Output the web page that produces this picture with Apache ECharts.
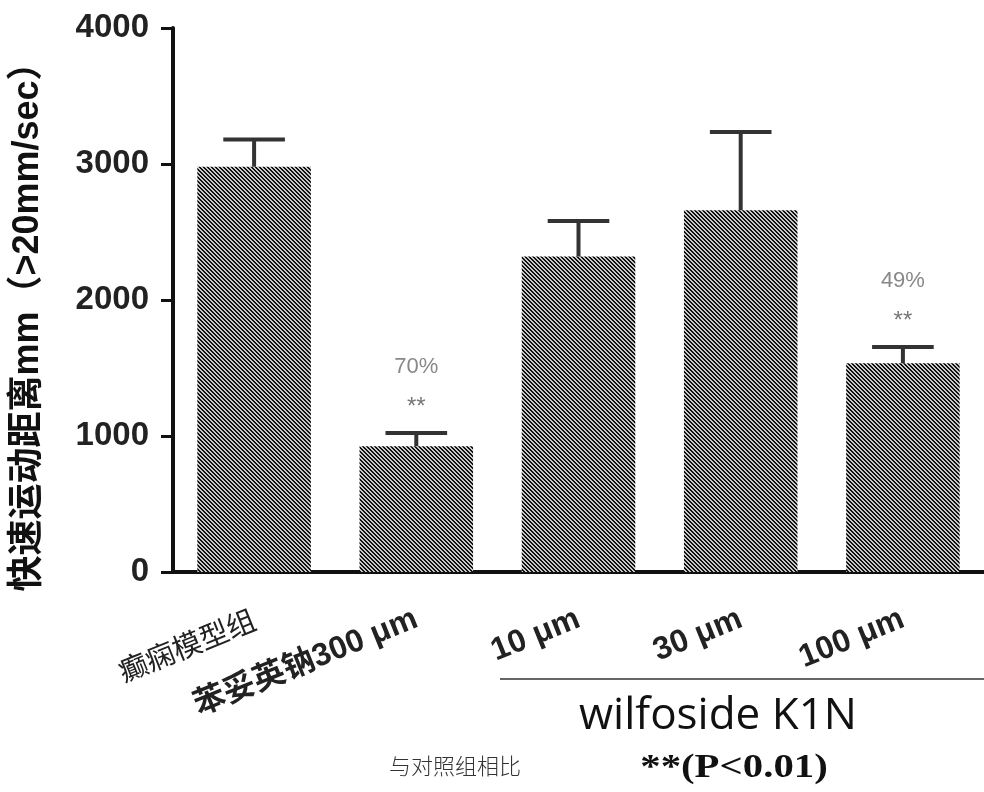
<!DOCTYPE html>
<html>
<head>
<meta charset="utf-8">
<script src="https://cdn.jsdelivr.net/npm/echarts@6/dist/echarts.min.js"></script>
<style>
  html, body { margin: 0; padding: 0; background: #fff; }
  #chart { width: 984px; height: 792px; }
</style>
</head>
<body>
<div id="chart"></div>
<script>
// 数据
var categories = ["癫痫模型组", "苯妥英钠300 μm", "10 μm", "30 μm", "100 μm"];
var meanValues = [2980, 925, 2320, 2660, 1535];
var errValues = [200, 97, 260, 575, 120];
var sigLabels = ["", "**", "", "", "**"];
var pctLabels = ["", "70%", "", "", "49%"];
var yTicks = [0, 1000, 2000, 3000, 4000];

// 斜线填充
var tile = document.createElement("canvas");
tile.width = 4;
tile.height = 4;
var tctx = tile.getContext("2d");
tctx.fillStyle = "#c8c8c8";
tctx.fillRect(0, 0, 4, 4);
tctx.fillStyle = "#111";
for (var i = 0; i < 4; i++) {
  tctx.fillRect(i, i, 1, 1);
  tctx.fillRect((i + 1) % 4, i, 1, 1);
}

var errData = meanValues.map(function (v, i) {
  return [i, v, v + errValues[i]];
});

var myChart = echarts.init(document.getElementById("chart"));
var option = {
  animation: false,
  grid: { left: 173, top: 28, width: 815, height: 544 },
  xAxis: {
    type: "category",
    data: categories,
    axisLine: { lineStyle: { color: "#111", width: 4 } },
    axisTick: { alignWithLabel: true, length: 11, lineStyle: { color: "#111", width: 3 } },
    axisLabel: {
      rotate: 22,
      margin: 46,
      interval: 0,
      formatter: function (val, idx) {
        return idx === 0 ? "{a|" + val + "}" : "{b|" + val + "}";
      },
      rich: {
        a: { fontSize: 29, color: "#222", fontFamily: "Noto Sans CJK SC" },
        b: { fontSize: 32, color: "#222", fontWeight: "bold", fontFamily: "Liberation Sans, Noto Sans CJK SC" }
      }
    }
  },
  yAxis: {
    type: "value",
    min: 0,
    max: 4000,
    interval: 1000,
    name: "快速运动距离mm（>20mm/sec）",
    nameLocation: "middle",
    nameRotate: 90,
    nameGap: 127,
    nameTextStyle: {
      fontSize: 36,
      fontWeight: "bold",
      color: "#111",
      fontFamily: "Liberation Sans, Noto Sans CJK SC",
      padding: [0, 0, 0, -36]
    },
    splitLine: { show: false },
    axisLine: { show: true, lineStyle: { color: "#111", width: 4 } },
    axisTick: { show: true, length: 12, lineStyle: { color: "#111", width: 3 } },
    axisLabel: {
      margin: 24,
      fontSize: 33,
      fontWeight: "bold",
      color: "#222",
      fontFamily: "Liberation Sans",
      formatter: function (v) {
        return yTicks.indexOf(v) >= 0 ? String(v) : "";
      }
    }
  },
  series: [
    {
      type: "bar",
      data: meanValues,
      barCategoryGap: "30%",
      itemStyle: { color: { image: tile, repeat: "repeat" } }
    },
    {
      type: "custom",
      data: errData,
      z: 3,
      renderItem: function (params, api) {
        var idx = api.value(0);
        var base = api.coord([idx, api.value(1)]);
        var top = api.coord([idx, api.value(2)]);
        var half = api.size([1, 0])[0] * 0.19;
        var style = { stroke: "#333", lineWidth: 4 };
        var children = [
          { type: "line", shape: { x1: base[0], y1: base[1], x2: top[0], y2: top[1] }, style: style },
          { type: "line", shape: { x1: top[0] - half, y1: top[1], x2: top[0] + half, y2: top[1] }, style: style }
        ];
        if (sigLabels[idx]) {
          children.push({
            type: "text",
            style: {
              text: sigLabels[idx], x: top[0], y: top[1] - 26,
              align: "center", verticalAlign: "middle",
              fontSize: 24, fill: "#777", fontFamily: "Liberation Sans"
            }
          });
          children.push({
            type: "text",
            style: {
              text: pctLabels[idx], x: top[0], y: top[1] - 66,
              align: "center", verticalAlign: "middle",
              fontSize: 22, fill: "#888", fontFamily: "Liberation Sans"
            }
          });
        }
        return { type: "group", children: children };
      }
    }
  ],
  graphic: [
    {
      type: "line",
      shape: { x1: 500, y1: 679, x2: 984, y2: 679 },
      style: { stroke: "#666", lineWidth: 2 }
    },
    {
      type: "text",
      x: 718, y: 716,
      style: {
        text: "wilfoside K1N", align: "center", verticalAlign: "middle",
        fontSize: 44, fill: "#111", fontFamily: "Open Sans"
      }
    },
    {
      type: "text",
      x: 455, y: 766,
      style: {
        text: "与对照组相比", align: "center", verticalAlign: "middle",
        fontSize: 22, fill: "#333", fontFamily: "Noto Sans CJK SC", fontWeight: 300
      }
    },
    {
      type: "text",
      x: 734, y: 768,
      scaleX: 1.2,
      style: {
        text: "**(P<0.01)", align: "center", verticalAlign: "middle",
        fontSize: 34, fill: "#111", fontWeight: "bold", fontFamily: "Liberation Serif"
      }
    }
  ]
};
myChart.setOption(option);
window.addEventListener("resize", function () {
  myChart.resize();
});
</script>
</body>
</html>
